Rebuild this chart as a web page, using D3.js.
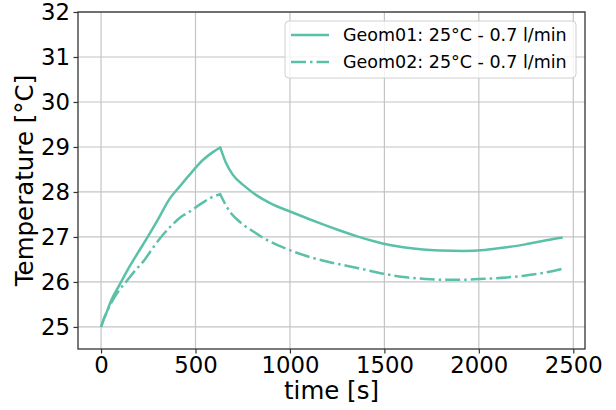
<!DOCTYPE html>
<html>
<head>
<meta charset="utf-8">
<script src="https://cdn.jsdelivr.net/npm/d3@7"></script>
<style>
  body { margin: 0; background: #fff; }
  svg { font-family: "DejaVu Sans", sans-serif; }
</style>
</head>
<body>
<svg id="chart" width="616" height="410"></svg>
<script>
// time [s] and temperature [°C]
const geom01Time = [0, 15, 30, 53, 97, 141, 194, 247, 300, 362, 420, 468, 539, 590, 631, 660, 698, 760, 822, 900, 1004, 1100, 1175, 1260, 1352, 1440, 1528, 1600, 1705, 1800, 1917, 2030, 2147, 2240, 2324, 2400, 2444];
const geom01Temp = [25.0, 25.18, 25.33, 25.58, 25.93, 26.27, 26.64, 27.0, 27.38, 27.84, 28.14, 28.38, 28.71, 28.88, 28.99, 28.66, 28.38, 28.13, 27.93, 27.74, 27.56, 27.40, 27.28, 27.15, 27.02, 26.91, 26.82, 26.77, 26.72, 26.70, 26.69, 26.71, 26.77, 26.83, 26.90, 26.96, 26.99];

const geom02Time = [0, 15, 30, 53, 90, 132, 180, 230, 275, 318, 370, 424, 468, 530, 580, 631, 655, 680, 715, 751, 810, 875, 945, 1016, 1100, 1200, 1299, 1400, 1511, 1600, 1705, 1800, 1917, 2030, 2147, 2240, 2324, 2400, 2440];
const geom02Temp = [25.0, 25.18, 25.33, 25.53, 25.78, 26.0, 26.25, 26.49, 26.76, 27.0, 27.24, 27.45, 27.56, 27.74, 27.87, 27.95, 27.75, 27.57, 27.41, 27.28, 27.11, 26.94, 26.80, 26.68, 26.56, 26.45, 26.36, 26.27, 26.17, 26.11, 26.07, 26.05, 26.05, 26.07, 26.10, 26.14, 26.19, 26.25, 26.29];

const seriesNames = ["Geom01: 25°C - 0.7 l/min", "Geom02: 25°C - 0.7 l/min"];
const xTicks = [0, 500, 1000, 1500, 2000, 2500];
const yTicks = [25, 26, 27, 28, 29, 30, 31, 32];

const color = "#5bc0a8";
const dashDot = "15,4,2.5,4";

const margin = { top: 12, right: 31, bottom: 61, left: 78 };
const width = 616 - margin.left - margin.right;
const height = 410 - margin.top - margin.bottom;

const svg = d3.select("#chart")
  .append("g")
  .attr("transform", `translate(${margin.left},${margin.top})`);

const x = d3.scaleLinear().domain([-122, 2562]).range([0, width]);
const y = d3.scaleLinear().domain([24.51, 32]).range([height, 0]);

// grid
svg.append("g")
  .selectAll("line")
  .data(xTicks)
  .enter()
  .append("line")
  .attr("x1", d => x(d)).attr("x2", d => x(d))
  .attr("y1", 0).attr("y2", height)
  .attr("stroke", "#c4c4c4").attr("stroke-width", 1.2);

svg.append("g")
  .selectAll("line")
  .data(yTicks)
  .enter()
  .append("line")
  .attr("x1", 0).attr("x2", width)
  .attr("y1", d => y(d)).attr("y2", d => y(d))
  .attr("stroke", "#c4c4c4").attr("stroke-width", 1.2);

// lines: smooth on each side of the peak, keep the cusp sharp
const line = d3.line()
  .x(d => x(d[0]))
  .y(d => y(d[1]))
  .curve(d3.curveMonotoneX);

function pathFor(times, temps) {
  const pts = times.map((t, i) => [t, temps[i]]);
  const peak = d3.maxIndex(temps);
  const rise = line(pts.slice(0, peak + 1));
  const fall = line(pts.slice(peak));
  return rise + fall.replace(/^M/, "L");
}

svg.append("path")
  .attr("d", pathFor(geom01Time, geom01Temp))
  .attr("fill", "none")
  .attr("stroke", color)
  .attr("stroke-width", 2.5)
  .attr("stroke-linejoin", "round");

svg.append("path")
  .attr("d", pathFor(geom02Time, geom02Temp))
  .attr("fill", "none")
  .attr("stroke", color)
  .attr("stroke-width", 2.5)
  .attr("stroke-dasharray", dashDot);

// axes
const xAxis = svg.append("g")
  .attr("transform", `translate(0,${height})`)
  .call(d3.axisBottom(x).tickValues(xTicks).tickFormat(d3.format("d")).tickSize(4.5).tickPadding(3.5));

const yAxis = svg.append("g")
  .call(d3.axisLeft(y).tickValues(yTicks).tickFormat(d3.format("d")).tickSize(4.5).tickPadding(3.5));

[xAxis, yAxis].forEach(a => {
  a.select(".domain").remove();
  a.selectAll("line").attr("stroke", "#333").attr("stroke-width", 1.2);
  a.selectAll("text")
    .attr("fill", "#000")
    .style("font-size", "22.8px")
    .style("font-family", "DejaVu Sans");
});

// spines
svg.append("rect")
  .attr("width", width)
  .attr("height", height)
  .attr("fill", "none")
  .attr("stroke", "#333")
  .attr("stroke-width", 1.3);

// axis labels
svg.append("text")
  .attr("x", width / 2)
  .attr("y", height + 50)
  .attr("text-anchor", "middle")
  .style("font-size", "24.5px")
  .text("time [s]");

svg.append("text")
  .attr("transform", `translate(${-45},${height / 2}) rotate(-90)`)
  .attr("text-anchor", "middle")
  .style("font-size", "24.5px")
  .text("Temperature [°C]");

// legend
const legend = svg.append("g").attr("transform", `translate(${207},${9})`);
legend.append("rect")
  .attr("width", 291)
  .attr("height", 57)
  .attr("rx", 4)
  .attr("fill", "#fff")
  .attr("fill-opacity", 0.8)
  .attr("stroke", "#d0d0d0")
  .attr("stroke-width", 1);

seriesNames.forEach((name, i) => {
  const g = legend.append("g").attr("transform", `translate(0,${14 + i * 27})`);
  g.append("line")
    .attr("x1", 6).attr("x2", 44)
    .attr("stroke", color)
    .attr("stroke-width", 2.5)
    .attr("stroke-dasharray", i === 1 ? dashDot : null);
  g.append("text")
    .attr("x", 58)
    .attr("dy", "0.36em")
    .style("font-size", "17.5px")
    .text(name);
});
</script>
</body>
</html>
